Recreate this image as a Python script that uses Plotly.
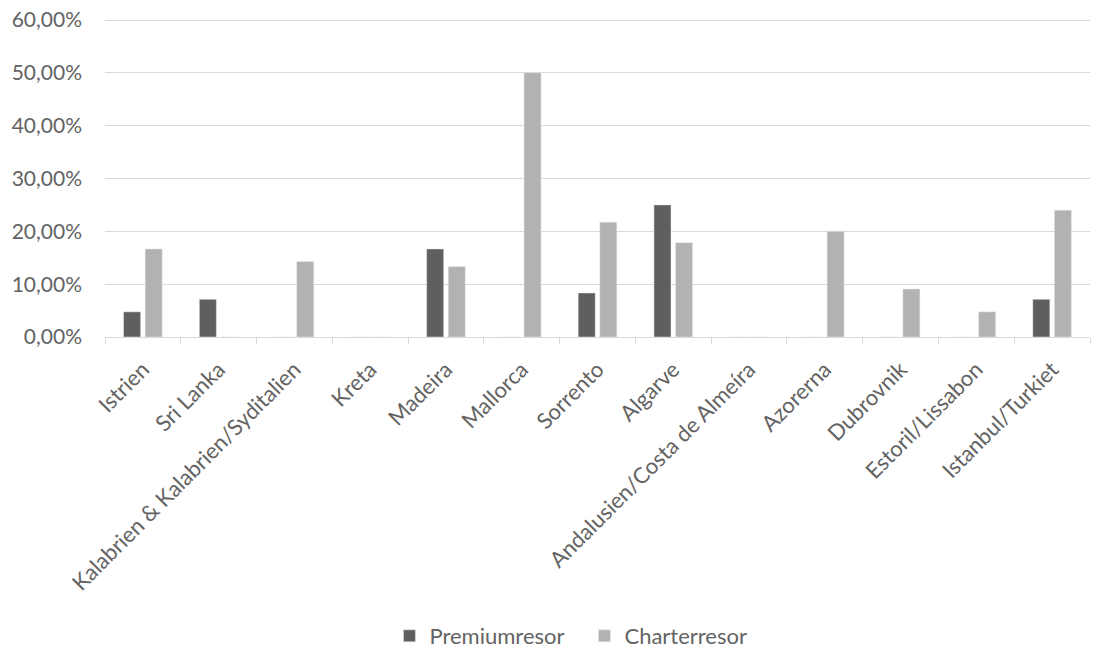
import plotly.graph_objects as go

categories = ["Istrien", "Sri Lanka", "Kalabrien & Kalabrien/Syditalien", "Kreta", "Madeira",
              "Mallorca", "Sorrento", "Algarve", "Andalusien/Costa de Almeíra", "Azorerna",
              "Dubrovnik", "Estoril/Lissabon", "Istanbul/Turkiet"]
premium = [0.0476, 0.0714, 0.0, 0.0, 0.1667, 0.0, 0.0833, 0.25, 0.0, 0.0, 0.0, 0.0, 0.0714]
charter = [0.1667, 0.0, 0.1429, 0.0, 0.1333, 0.50, 0.2174, 0.1786, 0.0, 0.20, 0.0909, 0.0476, 0.24]
y_ticks = [0, 0.1, 0.2, 0.3, 0.4, 0.5, 0.6]

FONT = "Lato"
TXT = "#636363"
FS = 21

fig = go.Figure()
fig.add_trace(go.Bar(name="Premiumresor", x=categories, y=premium, marker_color="#5f5f5f"))
fig.add_trace(go.Bar(name="Charterresor", x=categories, y=charter, marker_color="#b2b2b2"))

fig.update_layout(
    width=1109, height=648,
    margin=dict(l=105, r=19, t=17, b=311, autoexpand=False),
    paper_bgcolor="white", plot_bgcolor="white",
    barmode="group", bargap=0.43, bargroupgap=0.21,
    separators=", ",
    font=dict(family=FONT, size=FS, color=TXT),
    showlegend=True,
    legend=dict(orientation="h", x=0.527, xanchor="center", xref="container",
                y=1 - 636 / 648, yanchor="middle", yref="container",
                font=dict(family=FONT, size=FS + 1, color=TXT), traceorder="normal",
                itemwidth=30, entrywidth=150),
)
fig.update_yaxes(range=[0, 0.6057], tickvals=y_ticks, tickformat=".2%", showgrid=True,
                 gridcolor="#d9d9d9", gridwidth=1, zeroline=False, showline=False,
                 ticks="", ticklabelstandoff=22, automargin=False,
                 tickfont=dict(family=FONT, size=FS, color=TXT))
fig.update_xaxes(type="category", tickangle=-45, showline=True, linecolor="#d9d9d9", linewidth=1,
                 ticks="outside", tickson="boundaries", ticklen=6, tickcolor="#d9d9d9",
                 ticklabelstandoff=10, automargin=False,
                 tickfont=dict(family=FONT, size=FS + 1, color=TXT))

fig.write_html("out.html")
